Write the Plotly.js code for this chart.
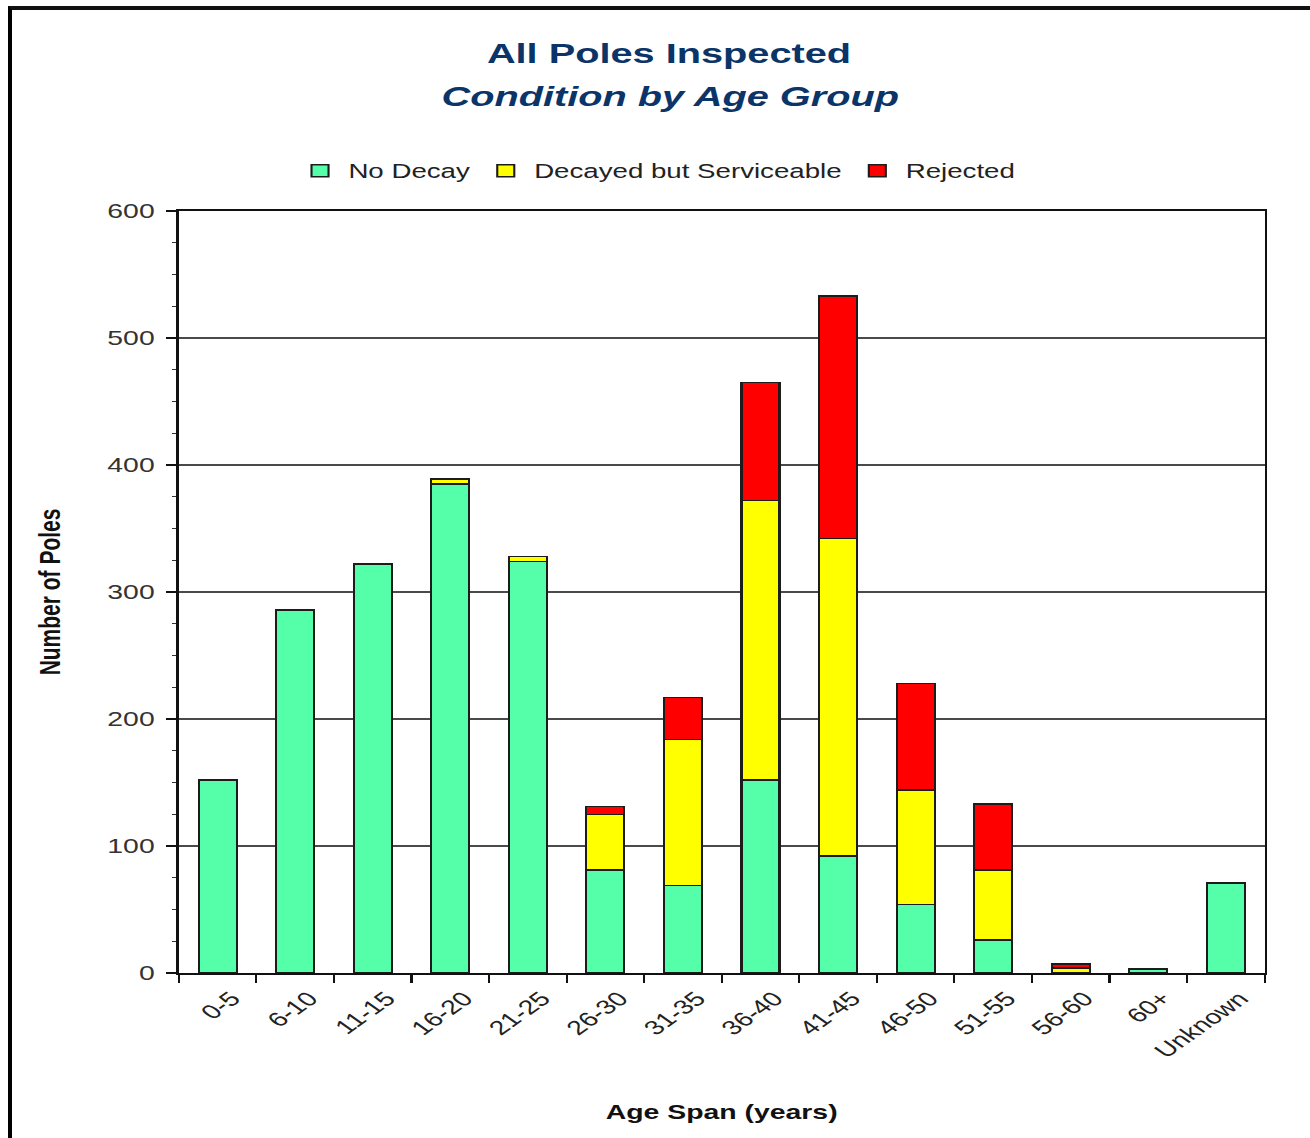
<!DOCTYPE html>
<html>
<head>
<meta charset="utf-8">
<script src="https://cdn.plot.ly/plotly-3.0.1.min.js"></script>
<style>
  html, body { margin:0; padding:0; background:#fff; width:1310px; height:1138px; overflow:hidden; }
  #wrap { position:absolute; left:0; top:0; width:923px; height:1138px; transform:scaleX(1.41928); transform-origin:0 0; }
  #chart { width:923px; height:1138px; }
  #frame { position:absolute; left:8px; top:6px; width:1400px; height:1200px; border-left:4px solid #000; border-top:4px solid #111; pointer-events:none; z-index:10; }
</style>
</head>
<body>
<div id="wrap"><div id="chart"></div></div>
<div id="frame"></div>
<script>
const categories = ['0-5','6-10','11-15','16-20','21-25','26-30','31-35','36-40','41-45','46-50','51-55','56-60','60+','Unknown'];
const noDecay   = [152, 286, 322, 385, 324, 81, 69, 152, 92, 54, 26, 0, 3, 71];
const decayed   = [0, 0, 0, 4, 4, 44, 115, 220, 250, 90, 55, 4, 0, 0];
const rejected  = [0, 0, 0, 0, 0, 6, 33, 93, 191, 84, 52, 3, 0, 0];
const seriesNames = ['No Decay', 'Decayed but Serviceable', 'Rejected'];
const seriesColors = ['#55FFA9', '#FFFF00', '#FF0000'];

const FONT = 'Liberation Sans, Arial, Helvetica, sans-serif';
const outline = {color:'#1c1c1c', width:1.5};

const traces = [noDecay, decayed, rejected].map((vals, i) => ({
  type:'bar', x:categories, y:vals, name:seriesNames[i],
  marker:{color:seriesColors[i], line:outline},
  hoverinfo:'skip'
}));

const layout = {
  width:923, height:1138,
  margin:{l:126, r:32, t:211, b:165},
  paper_bgcolor:'#ffffff', plot_bgcolor:'#ffffff',
  barmode:'stack', bargap:0.51,
  font:{family:FONT, color:'#222', size:19},
  title:{text:'<b>All Poles Inspected</b>', font:{family:FONT, size:28, color:'#0b3468'},
         xref:'container', x:0.5107, xanchor:'center', yref:'container', y:0.9534, yanchor:'middle'},
  annotations:[{text:'<b><i>Condition by Age Group</i></b>', xref:'paper', yref:'paper',
                x:0.4529, y:1.1509, xanchor:'center', yanchor:'middle', showarrow:false,
                font:{family:FONT, size:28, color:'#0b3468'}}],
  showlegend:true,
  legend:{orientation:'h', traceorder:'normal', xref:'paper', x:0.4405, xanchor:'center',
          yref:'paper', y:1.0525, yanchor:'middle', font:{family:FONT, size:19.5, color:'#222'},
          bgcolor:'rgba(0,0,0,0)'},
  xaxis:{type:'category', tickson:'boundaries', ticks:'outside', ticklen:8, tickwidth:1.5, tickcolor:'#111',
         tickangle:-45, tickfont:{family:FONT, size:20, color:'#222'},
         ticklabelshift:10, ticklabelstandoff:4,
         showline:true, linecolor:'#111', linewidth:2, mirror:true, showgrid:false,
         title:{text:'<b>Age Span (years)</b>', font:{family:FONT, size:20, color:'#111'}, standoff:44},
         automargin:false},
  yaxis:{range:[0,600], dtick:100, ticks:'outside', ticklen:7, tickwidth:1.5, tickcolor:'#111',
         minor:{dtick:25, ticks:'outside', ticklen:3, tickcolor:'#333', tickwidth:1, showgrid:false},
         tickfont:{family:FONT, size:20, color:'#333'}, ticklabelstandoff:4,
         showline:true, linecolor:'#111', linewidth:2, mirror:true,
         showgrid:true, gridcolor:'#4a4a4a', gridwidth:1.5, zeroline:false,
         title:{text:'<b>Number of Poles</b>', font:{family:FONT, size:21, color:'#111'}, standoff:27},
         automargin:false}
};

Plotly.newPlot('chart', traces, layout, {displayModeBar:false, staticPlot:true});
</script>
</body>
</html>
